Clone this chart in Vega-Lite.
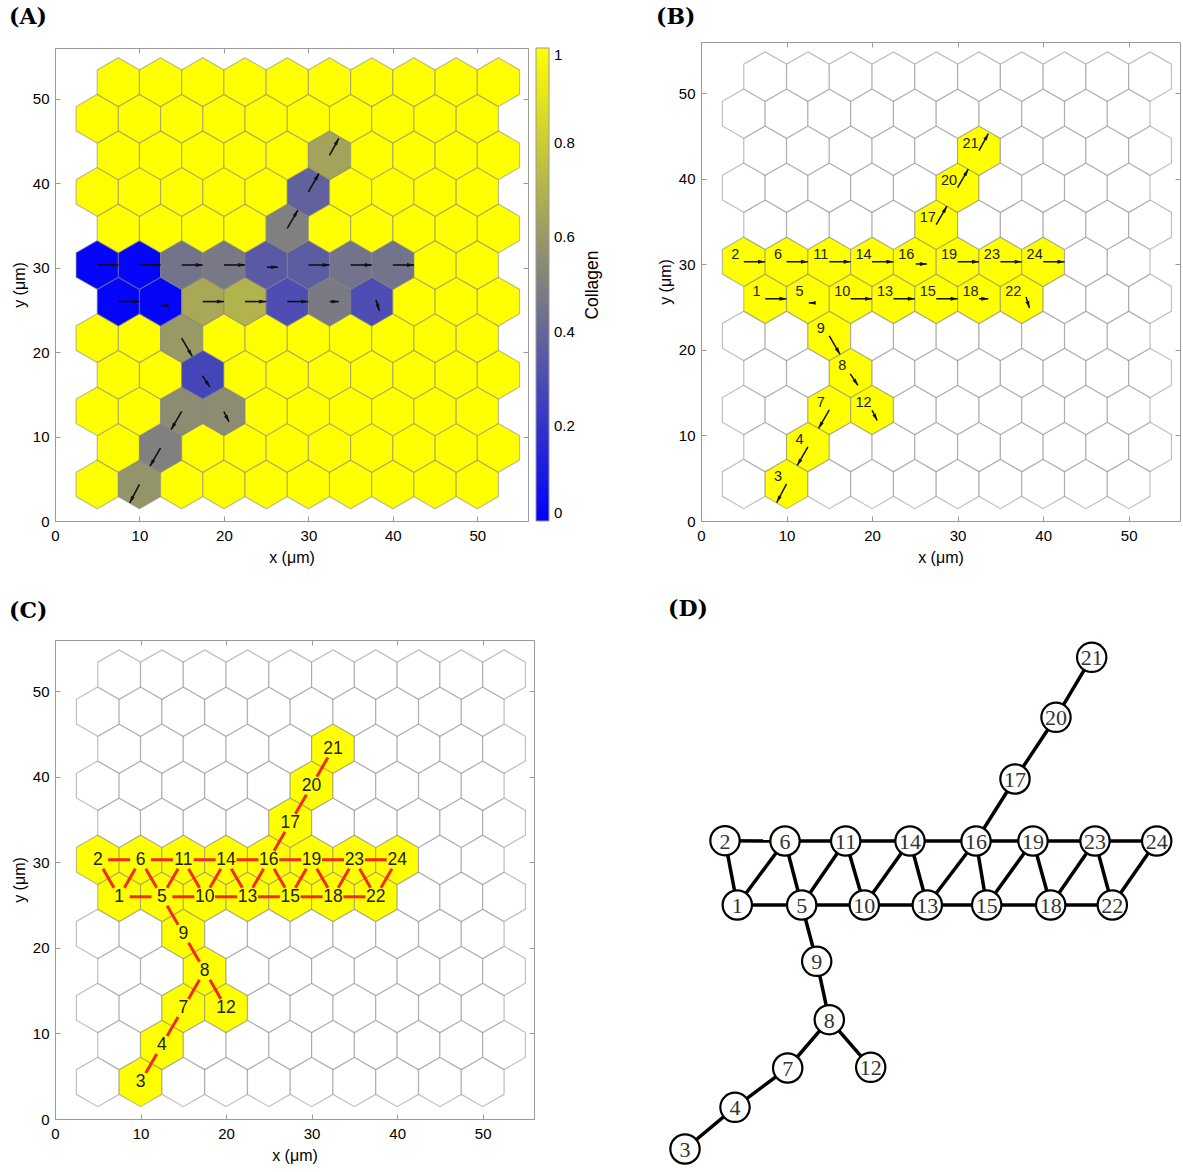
{
  "$schema": "https://vega.github.io/schema/vega-lite/v6.json",
  "padding": {"left": 8, "top": 5, "right": 0, "bottom": 0},
  "background": "white",
  "config": {
    "font": "Liberation Sans",
    "view": {"stroke": "#9a9a9a"},
    "axis": {"grid": false, "domain": false, "labelFlush": false, "tickColor": "#9a9a9a", "tickSize": -5, "labelFontSize": 15, "titleFontSize": 16, "titleFontWeight": "normal", "labelColor": "#000", "titleColor": "#000", "labelFont": "Liberation Sans", "titleFont": "Liberation Sans"},
    "axisX": {"labelPadding": 12, "titlePadding": 6},
    "axisY": {"labelPadding": 11, "titlePadding": 5},
    "title": {"font": "DejaVu Serif", "fontSize": 22, "fontWeight": "bold", "anchor": "start", "frame": "group", "color": "#000"}
  },
  "datasets": {
    "grid": [
      {"x":5,"y":4.33,"c":1},{"x":10,"y":4.33,"c":0.58,"id":3,"gx":685,"gy":1150},{"x":15,"y":4.33,"c":1},{"x":20,"y":4.33,"c":1},{"x":25,"y":4.33,"c":1},{"x":30,"y":4.33,"c":1},{"x":35,"y":4.33,"c":1},{"x":40,"y":4.33,"c":1},{"x":45,"y":4.33,"c":1},{"x":50,"y":4.33,"c":1},
      {"x":7.5,"y":8.66,"c":1},{"x":12.5,"y":8.66,"c":0.5,"id":4,"gx":735,"gy":1108.3},{"x":17.5,"y":8.66,"c":1},{"x":22.5,"y":8.66,"c":1},{"x":27.5,"y":8.66,"c":1},{"x":32.5,"y":8.66,"c":1},{"x":37.5,"y":8.66,"c":1},{"x":42.5,"y":8.66,"c":1},{"x":47.5,"y":8.66,"c":1},{"x":52.5,"y":8.66,"c":1},
      {"x":5,"y":12.99,"c":1},{"x":10,"y":12.99,"c":1},{"x":15,"y":12.99,"c":0.55,"id":7,"gx":787.7,"gy":1069},{"x":20,"y":12.99,"c":0.55,"id":12,"gx":870.7,"gy":1068.3},{"x":25,"y":12.99,"c":1},{"x":30,"y":12.99,"c":1},{"x":35,"y":12.99,"c":1},{"x":40,"y":12.99,"c":1},{"x":45,"y":12.99,"c":1},{"x":50,"y":12.99,"c":1},
      {"x":7.5,"y":17.32,"c":1},{"x":12.5,"y":17.32,"c":1},{"x":17.5,"y":17.32,"c":0.27,"id":8,"gx":829.3,"gy":1020.7},{"x":22.5,"y":17.32,"c":1},{"x":27.5,"y":17.32,"c":1},{"x":32.5,"y":17.32,"c":1},{"x":37.5,"y":17.32,"c":1},{"x":42.5,"y":17.32,"c":1},{"x":47.5,"y":17.32,"c":1},{"x":52.5,"y":17.32,"c":1},
      {"x":5,"y":21.65,"c":1},{"x":10,"y":21.65,"c":1},{"x":15,"y":21.65,"c":0.6,"id":9,"gx":816.7,"gy":962.3},{"x":20,"y":21.65,"c":1},{"x":25,"y":21.65,"c":1},{"x":30,"y":21.65,"c":1},{"x":35,"y":21.65,"c":1},{"x":40,"y":21.65,"c":1},{"x":45,"y":21.65,"c":1},{"x":50,"y":21.65,"c":1},
      {"x":7.5,"y":25.98,"c":0.02,"id":1,"gx":737.3,"gy":906},{"x":12.5,"y":25.98,"c":0.02,"id":5,"gx":801.7,"gy":906},{"x":17.5,"y":25.98,"c":0.66,"id":10,"gx":864.3,"gy":906},{"x":22.5,"y":25.98,"c":0.7,"id":13,"gx":927.3,"gy":906},{"x":27.5,"y":25.98,"c":0.3,"id":15,"gx":986.7,"gy":906},{"x":32.5,"y":25.98,"c":0.48,"id":18,"gx":1050.7,"gy":906},{"x":37.5,"y":25.98,"c":0.3,"id":22,"gx":1112.3,"gy":906},{"x":42.5,"y":25.98,"c":1},{"x":47.5,"y":25.98,"c":1},{"x":52.5,"y":25.98,"c":1},
      {"x":5,"y":30.31,"c":0.02,"id":2,"gx":725,"gy":841.7},{"x":10,"y":30.31,"c":0.02,"id":6,"gx":785,"gy":842},{"x":15,"y":30.31,"c":0.45,"id":11,"gx":845.7,"gy":842},{"x":20,"y":30.31,"c":0.47,"id":14,"gx":910,"gy":842},{"x":25,"y":30.31,"c":0.35,"id":16,"gx":976,"gy":842},{"x":30,"y":30.31,"c":0.36,"id":19,"gx":1033,"gy":842},{"x":35,"y":30.31,"c":0.45,"id":23,"gx":1095,"gy":842},{"x":40,"y":30.31,"c":0.45,"id":24,"gx":1156.7,"gy":842},{"x":45,"y":30.31,"c":1},{"x":50,"y":30.31,"c":1},
      {"x":7.5,"y":34.64,"c":1},{"x":12.5,"y":34.64,"c":1},{"x":17.5,"y":34.64,"c":1},{"x":22.5,"y":34.64,"c":1},{"x":27.5,"y":34.64,"c":0.5,"id":17,"gx":1015,"gy":780},{"x":32.5,"y":34.64,"c":1},{"x":37.5,"y":34.64,"c":1},{"x":42.5,"y":34.64,"c":1},{"x":47.5,"y":34.64,"c":1},{"x":52.5,"y":34.64,"c":1},
      {"x":5,"y":38.97,"c":1},{"x":10,"y":38.97,"c":1},{"x":15,"y":38.97,"c":1},{"x":20,"y":38.97,"c":1},{"x":25,"y":38.97,"c":1},{"x":30,"y":38.97,"c":0.38,"id":20,"gx":1056,"gy":718.3},{"x":35,"y":38.97,"c":1},{"x":40,"y":38.97,"c":1},{"x":45,"y":38.97,"c":1},{"x":50,"y":38.97,"c":1},
      {"x":7.5,"y":43.3,"c":1},{"x":12.5,"y":43.3,"c":1},{"x":17.5,"y":43.3,"c":1},{"x":22.5,"y":43.3,"c":1},{"x":27.5,"y":43.3,"c":1},{"x":32.5,"y":43.3,"c":0.64,"id":21,"gx":1091.7,"gy":658.3},{"x":37.5,"y":43.3,"c":1},{"x":42.5,"y":43.3,"c":1},{"x":47.5,"y":43.3,"c":1},{"x":52.5,"y":43.3,"c":1},
      {"x":5,"y":47.63,"c":1},{"x":10,"y":47.63,"c":1},{"x":15,"y":47.63,"c":1},{"x":20,"y":47.63,"c":1},{"x":25,"y":47.63,"c":1},{"x":30,"y":47.63,"c":1},{"x":35,"y":47.63,"c":1},{"x":40,"y":47.63,"c":1},{"x":45,"y":47.63,"c":1},{"x":50,"y":47.63,"c":1},
      {"x":7.5,"y":51.96,"c":1},{"x":12.5,"y":51.96,"c":1},{"x":17.5,"y":51.96,"c":1},{"x":22.5,"y":51.96,"c":1},{"x":27.5,"y":51.96,"c":1},{"x":32.5,"y":51.96,"c":1},{"x":37.5,"y":51.96,"c":1},{"x":42.5,"y":51.96,"c":1},{"x":47.5,"y":51.96,"c":1},{"x":52.5,"y":51.96,"c":1}
    ],
    "arrows": [
      {"id":1,"x":7.5,"y":25.98,"x2":10,"y2":25.98,"ang":90},
      {"id":2,"x":5,"y":30.31,"x2":7.5,"y2":30.31,"ang":90},
      {"id":3,"x":10,"y":4.33,"x2":8.85,"y2":2.16,"ang":208},
      {"id":4,"x":12.5,"y":8.66,"x2":11.25,"y2":6.49,"ang":210},
      {"id":5,"x":13.3,"y":25.5,"x2":12.6,"y2":25.5,"ang":270},
      {"id":6,"x":10,"y":30.31,"x2":12.5,"y2":30.31,"ang":90},
      {"id":7,"x":15,"y":12.99,"x2":13.75,"y2":10.82,"ang":210},
      {"id":8,"x":17.45,"y":17.2,"x2":18.35,"y2":15.85,"ang":146},
      {"id":9,"x":15,"y":21.65,"x2":16.25,"y2":19.48,"ang":150},
      {"id":10,"x":17.5,"y":25.98,"x2":20,"y2":25.98,"ang":90},
      {"id":11,"x":15,"y":30.31,"x2":17.5,"y2":30.31,"ang":90},
      {"id":12,"x":20,"y":12.95,"x2":20.6,"y2":11.75,"ang":153},
      {"id":13,"x":22.5,"y":25.98,"x2":25,"y2":25.98,"ang":90},
      {"id":14,"x":20,"y":30.31,"x2":22.5,"y2":30.31,"ang":90},
      {"id":15,"x":27.5,"y":25.98,"x2":30,"y2":25.98,"ang":90},
      {"id":16,"x":25.1,"y":30.05,"x2":26.4,"y2":30.05,"ang":90},
      {"id":17,"x":27.5,"y":34.64,"x2":28.75,"y2":36.81,"ang":30},
      {"id":18,"x":32.5,"y":25.98,"x2":33.6,"y2":25.98,"ang":90},
      {"id":19,"x":30,"y":30.31,"x2":32.5,"y2":30.31,"ang":90},
      {"id":20,"x":30,"y":38.97,"x2":31.25,"y2":41.14,"ang":30},
      {"id":21,"x":32.5,"y":43.3,"x2":33.6,"y2":45.3,"ang":29},
      {"id":22,"x":38,"y":26.2,"x2":38.4,"y2":24.9,"ang":163},
      {"id":23,"x":35,"y":30.31,"x2":37.5,"y2":30.31,"ang":90},
      {"id":24,"x":40,"y":30.31,"x2":42.5,"y2":30.31,"ang":90}
    ],
    "edges": [
      {"s":2,"t":6},{"s":6,"t":11},{"s":11,"t":14},{"s":14,"t":16},{"s":16,"t":19},{"s":19,"t":23},{"s":23,"t":24},
      {"s":1,"t":5},{"s":5,"t":10},{"s":10,"t":13},{"s":13,"t":15},{"s":15,"t":18},{"s":18,"t":22},
      {"s":2,"t":1},{"s":6,"t":1},{"s":6,"t":5},{"s":11,"t":5},{"s":11,"t":10},{"s":14,"t":10},{"s":14,"t":13},{"s":16,"t":13},{"s":16,"t":15},{"s":19,"t":15},{"s":19,"t":18},{"s":23,"t":18},{"s":23,"t":22},{"s":24,"t":22},
      {"s":16,"t":17},{"s":17,"t":20},{"s":20,"t":21},{"s":5,"t":9},{"s":9,"t":8},{"s":8,"t":7},{"s":8,"t":12},{"s":7,"t":4},{"s":4,"t":3}
    ]
  },
  "spacing": 32,
  "resolve": {"scale": {"color": "independent"}, "legend": {"color": "independent"}},
  "vconcat": [
    {
      "spacing": 54,
      "resolve": {"scale": {"color": "independent"}, "legend": {"color": "independent"}},
      "hconcat": [
        {
          "title": {"text": "(A)", "dx": -46, "offset": 13},
          "width": 473, "height": 479,
          "view": {"stroke": null},
          "layer": [
            {
              "data": {"name": "grid"},
              "mark": {"type": "point", "shape": "M0,-1.1547L1,-0.5774L1,0.5774L0,1.1547L-1,0.5774L-1,-0.5774Z", "size": 1783, "filled": true, "opacity": 1, "fillOpacity": 1, "stroke": "#808080", "strokeWidth": 1.2, "strokeOpacity": 0.5},
              "encoding": {
                "x": {"field": "x", "type": "quantitative", "scale": {"domain": [0, 56], "nice": false, "zero": false}, "axis": {"values": [0, 10, 20, 30, 40, 50], "title": "x (μm)", "domain": true, "domainColor": "#9a9a9a"}},
                "y": {"field": "y", "type": "quantitative", "scale": {"domain": [0, 56], "range": [479, 6], "nice": false, "zero": false}, "axis": {"values": [0, 10, 20, 30, 40, 50], "title": "y (μm)", "domain": true, "domainColor": "#9a9a9a"}},
                "color": {"field": "c", "type": "quantitative", "scale": {"domain": [0, 1], "range": ["#0000ff", "#ffff00"], "interpolate": "rgb"},
                  "legend": {"direction": "vertical", "orient": "none", "legendX": 481, "legendY": 6, "padding": 0, "gradientLength": 473, "gradientThickness": 13, "values": [0, 0.2, 0.4, 0.6, 0.8, 1], "format": ".1~f", "labelFontSize": 15, "labelOffset": 5, "labelColor": "#000", "labelOverlap": false, "title": null, "gradientStrokeColor": "#999", "gradientStrokeWidth": 1}}
              }
            },
            {
              "data": {"name": "arrows"},
              "mark": {"type": "rule", "strokeWidth": 1.6, "color": "#111"},
              "encoding": {
                "x": {"field": "x", "type": "quantitative", "scale": {"domain": [0, 56], "nice": false, "zero": false}, "axis": {"orient": "top", "offset": -6, "labels": false, "title": null, "values": [0, 10, 20, 30, 40, 50], "domain": true, "domainColor": "#9a9a9a"}},
                "y": {"field": "y", "type": "quantitative", "scale": {"domain": [0, 56], "range": [479, 6], "nice": false, "zero": false}, "axis": {"orient": "right", "labels": false, "title": "Collagen", "titleAngle": 270, "titleBaseline": "top", "titleFontSize": 17.5, "titlePadding": 55, "values": [0, 10, 20, 30, 40, 50], "domain": true, "domainColor": "#9a9a9a"}},
                "x2": {"field": "x2"},
                "y2": {"field": "y2"}
              }
            },
            {
              "data": {"name": "arrows"},
              "mark": {"type": "point", "shape": "M0,0L0.55,2L-0.55,2Z", "size": 49, "filled": true, "opacity": 1, "color": "#111"},
              "encoding": {
                "x": {"field": "x2", "type": "quantitative", "scale": {"domain": [0, 56], "nice": false, "zero": false}, "axis": null},
                "y": {"field": "y2", "type": "quantitative", "scale": {"domain": [0, 56], "range": [479, 6], "nice": false, "zero": false}, "axis": null},
                "angle": {"field": "ang", "type": "quantitative", "scale": null}
              }
            }
          ],
          "resolve": {"axis": {"x": "independent", "y": "independent"}}
        },
        {
          "title": {"text": "(B)", "dx": -45, "offset": 13},
          "width": 479, "height": 479,
          "layer": [
            {
              "data": {"name": "grid"},
              "mark": {"type": "point", "shape": "M0,-1.1547L1,-0.5774L1,0.5774L0,1.1547L-1,0.5774L-1,-0.5774Z", "size": 1829, "filled": true, "opacity": 1, "fillOpacity": 1, "stroke": "#808080", "strokeWidth": 1.2, "strokeOpacity": 0.5},
              "encoding": {
                "x": {"field": "x", "type": "quantitative", "scale": {"domain": [0, 56], "nice": false, "zero": false}, "axis": {"values": [0, 10, 20, 30, 40, 50], "title": "x (μm)"}},
                "y": {"field": "y", "type": "quantitative", "scale": {"domain": [0, 56], "nice": false, "zero": false}, "axis": {"values": [0, 10, 20, 30, 40, 50], "title": "y (μm)"}},
                "fill": {"condition": {"test": "isValid(datum.id)", "value": "#ffff00"}, "value": "#ffffff"}
              }
            },
            {
              "data": {"name": "arrows"},
              "mark": {"type": "rule", "strokeWidth": 1.5, "color": "#111"},
              "encoding": {
                "x": {"field": "x", "type": "quantitative", "scale": {"domain": [0, 56], "nice": false, "zero": false}, "axis": {"orient": "top", "labels": false, "title": null, "values": [0, 10, 20, 30, 40, 50]}},
                "y": {"field": "y", "type": "quantitative", "scale": {"domain": [0, 56], "nice": false, "zero": false}, "axis": {"orient": "right", "labels": false, "title": null, "values": [0, 10, 20, 30, 40, 50]}},
                "x2": {"field": "x2"},
                "y2": {"field": "y2"}
              }
            },
            {
              "data": {"name": "arrows"},
              "mark": {"type": "point", "shape": "M0,0L0.55,2L-0.55,2Z", "size": 49, "filled": true, "opacity": 1, "color": "#111"},
              "encoding": {
                "x": {"field": "x2", "type": "quantitative", "scale": {"domain": [0, 56], "nice": false, "zero": false}, "axis": null},
                "y": {"field": "y2", "type": "quantitative", "scale": {"domain": [0, 56], "nice": false, "zero": false}, "axis": null},
                "angle": {"field": "ang", "type": "quantitative", "scale": null}
              }
            },
            {
              "data": {"name": "grid"},
              "transform": [{"filter": "isValid(datum.id)"}],
              "mark": {"type": "text", "fontSize": 14.5, "color": "#222", "align": "center", "baseline": "middle", "dx": -8.5, "dy": -7},
              "encoding": {
                "x": {"field": "x", "type": "quantitative", "scale": {"domain": [0, 56], "nice": false, "zero": false}, "axis": null},
                "y": {"field": "y", "type": "quantitative", "scale": {"domain": [0, 56], "nice": false, "zero": false}, "axis": null},
                "text": {"field": "id", "type": "nominal"}
              }
            }
          ],
          "resolve": {"axis": {"x": "independent", "y": "independent"}}
        }
      ]
    },
    {
      "spacing": 125,
      "hconcat": [
        {
          "title": {"text": "(C)", "dx": -46, "offset": 17},
          "width": 479, "height": 479,
          "layer": [
            {
              "data": {"name": "grid"},
              "mark": {"type": "point", "shape": "M0,-1.1547L1,-0.5774L1,0.5774L0,1.1547L-1,0.5774L-1,-0.5774Z", "size": 1829, "filled": true, "opacity": 1, "fillOpacity": 1, "stroke": "#808080", "strokeWidth": 1.2, "strokeOpacity": 0.5},
              "encoding": {
                "x": {"field": "x", "type": "quantitative", "scale": {"domain": [0, 56], "nice": false, "zero": false}, "axis": {"values": [0, 10, 20, 30, 40, 50], "title": "x (μm)"}},
                "y": {"field": "y", "type": "quantitative", "scale": {"domain": [0, 56], "nice": false, "zero": false}, "axis": {"values": [0, 10, 20, 30, 40, 50], "title": "y (μm)"}},
                "fill": {"condition": {"test": "isValid(datum.id)", "value": "#ffff00"}, "value": "#ffffff"}
              }
            },
            {
              "data": {"name": "edges"},
              "transform": [
                {"lookup": "s", "from": {"data": {"name": "grid"}, "key": "id", "fields": ["x", "y"]}, "as": ["sx", "sy"]},
                {"lookup": "t", "from": {"data": {"name": "grid"}, "key": "id", "fields": ["x", "y"]}, "as": ["tx", "ty"]}
              ],
              "mark": {"type": "rule", "strokeWidth": 3, "color": "#f52a1c", "strokeDash": [22, 20.8], "strokeDashOffset": 32.4},
              "encoding": {
                "x": {"field": "sx", "type": "quantitative", "scale": {"domain": [0, 56], "nice": false, "zero": false}, "axis": {"orient": "top", "labels": false, "title": null, "values": [0, 10, 20, 30, 40, 50]}},
                "y": {"field": "sy", "type": "quantitative", "scale": {"domain": [0, 56], "nice": false, "zero": false}, "axis": {"orient": "right", "labels": false, "title": null, "values": [0, 10, 20, 30, 40, 50]}},
                "x2": {"field": "tx"},
                "y2": {"field": "ty"}
              }
            },
            {
              "data": {"name": "grid"},
              "transform": [{"filter": "isValid(datum.id)"}],
              "mark": {"type": "text", "fontSize": 17.5, "color": "#222", "align": "center", "baseline": "middle"},
              "encoding": {
                "x": {"field": "x", "type": "quantitative", "scale": {"domain": [0, 56], "nice": false, "zero": false}, "axis": null},
                "y": {"field": "y", "type": "quantitative", "scale": {"domain": [0, 56], "nice": false, "zero": false}, "axis": null},
                "text": {"field": "id", "type": "nominal"}
              }
            }
          ],
          "resolve": {"axis": {"x": "independent", "y": "independent"}}
        },
        {
          "title": {"text": "(D)", "dx": 8, "offset": 17},
          "width": 520, "height": 530,
          "view": {"stroke": null},
          "layer": [
            {
              "data": {"name": "edges"},
              "transform": [
                {"lookup": "s", "from": {"data": {"name": "grid"}, "key": "id", "fields": ["gx", "gy"]}, "as": ["sgx", "sgy"]},
                {"lookup": "t", "from": {"data": {"name": "grid"}, "key": "id", "fields": ["gx", "gy"]}, "as": ["tgx", "tgy"]}
              ],
              "mark": {"type": "rule", "strokeWidth": 3.5, "color": "#000"},
              "encoding": {
                "x": {"field": "sgx", "type": "quantitative", "scale": {"domain": [660, 1180], "nice": false, "zero": false}, "axis": null},
                "y": {"field": "sgy", "type": "quantitative", "scale": {"domain": [641, 1171], "nice": false, "zero": false, "reverse": true}, "axis": null},
                "x2": {"field": "tgx"},
                "y2": {"field": "tgy"}
              }
            },
            {
              "data": {"name": "grid"},
              "transform": [{"filter": "isValid(datum.id)"}],
              "mark": {"type": "point", "shape": "circle", "size": 860, "filled": true, "fill": "#ffffff", "stroke": "#000", "strokeWidth": 2.2, "opacity": 1},
              "encoding": {
                "x": {"field": "gx", "type": "quantitative", "scale": {"domain": [660, 1180], "nice": false, "zero": false}, "axis": null},
                "y": {"field": "gy", "type": "quantitative", "scale": {"domain": [641, 1171], "nice": false, "zero": false, "reverse": true}, "axis": null}
              }
            },
            {
              "data": {"name": "grid"},
              "transform": [{"filter": "isValid(datum.id)"}],
              "mark": {"type": "text", "font": "Liberation Serif", "fontSize": 22, "color": "#333", "align": "center", "baseline": "middle", "dy": 1},
              "encoding": {
                "x": {"field": "gx", "type": "quantitative", "scale": {"domain": [660, 1180], "nice": false, "zero": false}, "axis": null},
                "y": {"field": "gy", "type": "quantitative", "scale": {"domain": [641, 1171], "nice": false, "zero": false, "reverse": true}, "axis": null},
                "text": {"field": "id", "type": "nominal"}
              }
            }
          ]
        }
      ]
    }
  ]
}
